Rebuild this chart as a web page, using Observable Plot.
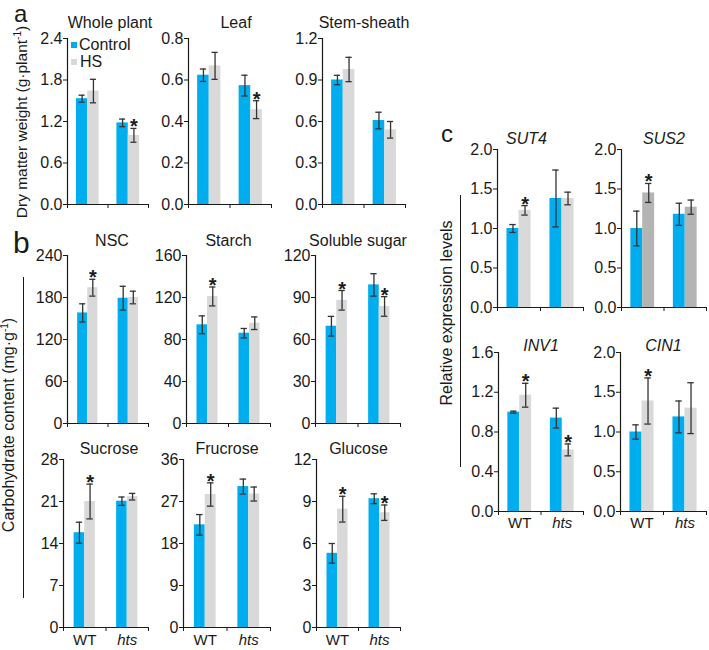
<!DOCTYPE html>
<html>
<head>
<meta charset="utf-8">
<script src="https://cdn.jsdelivr.net/npm/d3@7"></script>
<script src="https://cdn.jsdelivr.net/npm/@observablehq/plot@0.6"></script>
<style>
  html, body { margin: 0; padding: 0; background: #fff; }
  #root { position: relative; width: 709px; height: 650px; overflow: hidden; font-family: 'Liberation Sans', Arial, sans-serif; color: #1a1a1a; }
  .abs { position: absolute; }
  .rot { position: absolute; height: 20px; line-height: 20px; text-align: center; font-size: 16px; transform: rotate(-90deg); white-space: nowrap; }
  sup { font-size: 10px; line-height: 0; vertical-align: 6px; }
</style>
</head>
<body>
<div id="root"></div>
<script>
// ---------- data ----------
const panelTitles = ["Whole plant","Leaf","Stem-sheath","NSC","Starch","Soluble sugar","Sucrose","Frucrose","Glucose","SUT4","SUS2","INV1","CIN1"];
const groupLabels = ["WT","hts"];
const seriesNames = ["Control","HS"];
const controlMean = [[1.53,1.18],[0.623,0.573],[0.90,0.607],[158,179],[94,86],[69.5,99],[15.8,21.05],[22,30.2],[5.3,9.2],[1.0,1.38],[1.0,1.18],[1.0,0.94],[1.0,1.19]];
const controlErr  = [[0.05,0.055],[0.03,0.05],[0.034,0.06],[13,17],[8.5,4.5],[7,8],[1.75,0.7],[2.2,1.6],[0.7,0.35],[0.05,0.36],[0.22,0.14],[0.01,0.1],[0.09,0.2]];
const hsMean      = [[1.64,1.0],[0.668,0.457],[0.976,0.54],[194,180],[121,95.5],[88,83.6],[21,21.8],[28.5,28.6],[8.45,8.2],[1.23,1.38],[1.45,1.27],[1.17,0.62],[1.39,1.3]];
const hsErr       = [[0.17,0.1],[0.065,0.043],[0.088,0.06],[12,9],[9,6],[7,7],[2.9,0.55],[2.5,1.5],[0.92,0.55],[0.06,0.08],[0.12,0.09],[0.12,0.06],[0.29,0.32]];
const hsStar      = [[false,true],[false,true],[false,false],[true,false],[true,false],[true,true],[true,false],[true,false],[true,true],[true,false],[true,false],[true,true],[true,false]];
const yMax = [2.4,0.8,1.2,240,160,120,28,36,12,2.0,2.0,1.6,2.0];
const yTickLabels = [
  ["0.0","0.6","1.2","1.8","2.4"],["0.0","0.2","0.4","0.6","0.8"],["0.0","0.3","0.6","0.9","1.2"],
  ["0","60","120","180","240"],["0","40","80","120","160"],["0","30","60","90","120"],
  ["0","7","14","21","28"],["0","9","18","27","36"],["0","3","6","9","12"],
  ["0.0","0.5","1.0","1.5","2.0"],["0.0","0.5","1.0","1.5","2.0"],["0.0","0.4","0.8","1.2","1.6"],["0.0","0.5","1.0","1.5","2.0"]
];

// ---------- layout / styles ----------
const FONT = "'Liberation Sans', Arial, sans-serif";
const BLUE = "#00aeef", GRAY = "#d9d9d9", DARKGRAY = "#b4b4b4", INK = "#1a1a1a", ERR = "#333";
const layout = [
  {ax:67,  top:38,  h:166, w:81, ty:22,  tdx:2,   bw:0.28},
  {ax:188, top:38,  h:166, w:83, ty:22,  tdx:6,   bw:0.28},
  {ax:322, top:38,  h:166, w:83, ty:22,  tdx:0,   bw:0.28},
  {ax:67,  top:255, h:168, w:81, ty:240, tdx:4,   bw:0.25},
  {ax:186, top:255, h:168, w:84, ty:240, tdx:0,   bw:0.25},
  {ax:315, top:255, h:168, w:85, ty:240, tdx:0,   bw:0.25},
  {ax:63,  top:459, h:168, w:85, ty:448, tdx:3,   bw:0.25, ly:640},
  {ax:183, top:459, h:168, w:87, ty:448, tdx:0,   bw:0.25, ly:640},
  {ax:316, top:459, h:168, w:84, ty:448, tdx:0,   bw:0.25, ly:640},
  {ax:497, top:149, h:158, w:86, ty:138, tdx:-14, bw:0.28, italic:true},
  {ax:621, top:149, h:158, w:85, ty:138, tdx:0,   bw:0.28, italic:true, hsFill:DARKGRAY},
  {ax:498, top:352, h:159, w:85, ty:345, tdx:0,   bw:0.28, italic:true, ly:523},
  {ax:620, top:352, h:159, w:86, ty:345, tdx:0,   bw:0.28, italic:true, ly:523}
];

const root = document.getElementById("root");
const ML = 46, MR = 3, MT = 30, MB = 22;

panelTitles.forEach((title, i) => {
  const L = layout[i];
  const rows = [];
  groupLabels.forEach((g, gi) => {
    const cx = gi + 0.5;
    rows.push({series: seriesNames[0], cx, x1: cx - L.bw, x2: cx, ex: cx - L.bw / 2, mean: controlMean[i][gi], err: controlErr[i][gi], star: false});
    rows.push({series: seriesNames[1], cx, x1: cx, x2: cx + L.bw, ex: cx + L.bw / 2, mean: hsMean[i][gi], err: hsErr[i][gi], star: hsStar[i][gi]});
  });
  const ticks = yTickLabels[i].map(Number);
  const tickMap = new Map(ticks.map((t, k) => [t, yTickLabels[i][k]]));
  const cap = 0.075;
  const marks = [
    Plot.rectY(rows, {x1: "x1", x2: "x2", y1: 0, y2: "mean", fill: d => d.series === "Control" ? BLUE : (L.hsFill || GRAY)}),
    Plot.ruleX(rows, {x: "ex", y1: d => d.mean - d.err, y2: d => d.mean + d.err, stroke: ERR, strokeWidth: 1.3}),
    Plot.ruleY(rows, {y: d => d.mean + d.err, x1: d => d.ex - cap, x2: d => d.ex + cap, stroke: ERR, strokeWidth: 1.3}),
    Plot.ruleY(rows, {y: d => d.mean - d.err, x1: d => d.ex - cap, x2: d => d.ex + cap, stroke: ERR, strokeWidth: 1.3}),
    Plot.text(rows.filter(d => d.star), {x: "ex", y: d => d.mean + d.err, text: () => "*", fontSize: 20, fontWeight: "bold", lineAnchor: "bottom", dy: 5, fill: INK}),
    Plot.ruleX([0], {stroke: INK, strokeWidth: 1.2}),
    Plot.ruleY([0], {stroke: INK, strokeWidth: 1.2}),
    Plot.axisY({ticks, tickFormat: d => tickMap.get(d), tickSize: 4, tickPadding: 1, label: null, anchor: "left", stroke: INK, fill: INK}),
    Plot.axisX({ticks: [0, 1, 2], tickSize: 4, tickFormat: () => "", label: null, anchor: "bottom", stroke: INK}),
    Plot.text([title], {frameAnchor: "top", lineAnchor: "middle", dy: -(L.top - L.ty), dx: L.tdx, fontStyle: L.italic ? "italic" : "normal", fontSize: 16, fill: INK})
  ];
  if (L.ly) {
    const dyLab = L.ly - (L.top + L.h);
    marks.push(Plot.text([groupLabels[0]], {x: () => 0.5, frameAnchor: "bottom", lineAnchor: "middle", dy: dyLab, fontSize: 15, fill: INK}));
    marks.push(Plot.text([groupLabels[1]], {x: () => 1.5, frameAnchor: "bottom", lineAnchor: "middle", dy: dyLab, fontSize: 15, fontStyle: "italic", fill: INK}));
  }
  const svg = Plot.plot({
    width: ML + L.w + MR,
    height: MT + L.h + MB,
    marginLeft: ML, marginRight: MR, marginTop: MT, marginBottom: MB,
    x: {type: "linear", domain: [0, 2]},
    y: {type: "linear", domain: [0, yMax[i]]},
    style: {fontFamily: FONT, fontSize: "16px", background: "transparent", overflow: "visible", color: INK},
    marks
  });
  svg.style.position = "absolute";
  svg.style.left = (L.ax - ML) + "px";
  svg.style.top = (L.top - MT) + "px";
  root.appendChild(svg);
});

// ---------- legend ----------
function addDiv(html, css, cls) {
  const d = document.createElement("div");
  d.className = cls || "abs";
  d.innerHTML = html;
  Object.assign(d.style, css);
  root.appendChild(d);
  return d;
}
addDiv("", {left: "71px", top: "42px", width: "6px", height: "6px", background: BLUE});
addDiv(seriesNames[0], {left: "79px", top: "36px", fontSize: "16px", lineHeight: "18px"});
addDiv("", {left: "71px", top: "59px", width: "6px", height: "6px", background: GRAY});
addDiv(seriesNames[1], {left: "80px", top: "53px", fontSize: "16px", lineHeight: "18px"});

// ---------- axis titles ----------
function rotTitle(html, cx, cy, w, fs) {
  addDiv(html, {left: (cx - w / 2) + "px", top: (cy - 10) + "px", width: w + "px", fontSize: (fs || 16) + "px"}, "rot");
}
rotTitle("Dry matter weight (g·plant<sup>-1</sup>)", 22, 122, 200, 15.5);
rotTitle("Carbohydrate content (mg·g<sup>-1</sup>)", 9, 425, 218);
rotTitle("Relative expression levels", 447, 313, 190);
addDiv("", {left: "23px", top: "277px", width: "1.3px", height: "321px", background: INK});
addDiv("", {left: "460px", top: "195px", width: "1.3px", height: "272px", background: INK});

// ---------- panel letters ----------
addDiv("a", {left: "14px", top: "0px", fontSize: "24px", lineHeight: "normal"});
addDiv("b", {left: "13px", top: "226px", fontSize: "30px", lineHeight: "34px"});
addDiv("c", {left: "441px", top: "119px", fontSize: "24px", lineHeight: "30px"});
</script>
</body>
</html>
